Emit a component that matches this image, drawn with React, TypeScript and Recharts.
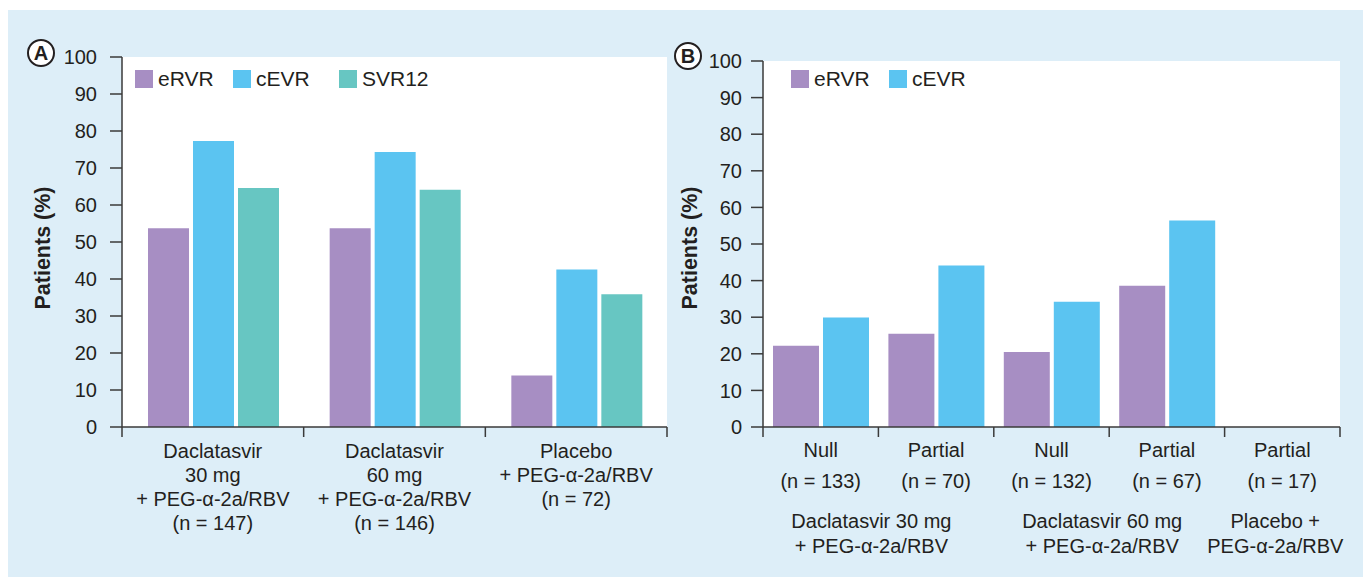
import { BarChart, Bar, XAxis, YAxis, CartesianGrid, Legend, Label } from "recharts";

// Panel A: response by treatment arm
const groupsA = [
  ["Daclatasvir", "30 mg", "+ PEG-\u03b1-2a/RBV", "(n = 147)"],
  ["Daclatasvir", "60 mg", "+ PEG-\u03b1-2a/RBV", "(n = 146)"],
  ["Placebo", "+ PEG-\u03b1-2a/RBV", "(n = 72)"],
];
const eRvrA = [53.7, 53.7, 13.9];
const cEvrA = [77.3, 74.3, 42.6];
const svr12A = [64.6, 64.1, 35.9];

// Panel B: response by prior null / partial response
const responseB = ["Null", "Partial", "Null", "Partial", "Partial"];
const countsB = ["(n = 133)", "(n = 70)", "(n = 132)", "(n = 67)", "(n = 17)"];
const eRvrB = [22.2, 25.5, 20.5, 38.6, null];
const cEvrB = [29.9, 44.1, 34.2, 56.4, null];
const groupLabelsB = [
  ["Daclatasvir 30 mg", "+ PEG-\u03b1-2a/RBV"],
  ["Daclatasvir 60 mg", "+ PEG-\u03b1-2a/RBV"],
  ["Placebo +", "PEG-\u03b1-2a/RBV"],
];
const groupSpansB = [2, 2, 1];

const yTicks = [0, 10, 20, 30, 40, 50, 60, 70, 80, 90, 100];

const PURPLE = "#a78ec3";
const BLUE = "#5bc4f1";
const TEAL = "#67c6c2";
const BG = "#ddeef8";
const INK = "#231f20";
const AXIS = "#3a3a3a";
const FONT = "'Liberation Sans', Arial, Helvetica, sans-serif";

const dataA = groupsA.map((g, i) => ({
  name: g.join(" "),
  eRVR: eRvrA[i],
  cEVR: cEvrA[i],
  SVR12: svr12A[i],
}));

const dataB = responseB.map((r, i) => ({
  name: `${r} ${countsB[i]}`,
  eRVR: eRvrB[i],
  cEVR: cEvrB[i],
}));

const W_A = 670;
const W_B = 695;
const H = 567;
const PLOT_W_A = 545;
const PLOT_W_B = 577;

const TickA = ({ x, y, index }: any) => {
  const band = PLOT_W_A / groupsA.length;
  const lines = groupsA[index] || [];
  return (
    <g>
      <line x1={x - band / 2} x2={x - band / 2} y1={y} y2={y + 10} stroke={AXIS} strokeWidth={1.5} />
      {index === groupsA.length - 1 && (
        <line x1={x + band / 2} x2={x + band / 2} y1={y} y2={y + 10} stroke={AXIS} strokeWidth={1.5} />
      )}
      <text x={x} y={y + 31} textAnchor="middle" fill={INK} fontSize={20} fontFamily={FONT}>
        {lines.map((l, i) => (
          <tspan key={i} x={x} dy={i === 0 ? 0 : 24}>
            {l}
          </tspan>
        ))}
      </text>
    </g>
  );
};

const TickB = ({ x, y, index }: any) => {
  const band = PLOT_W_B / responseB.length;
  // does this category start a group?
  let start = 0;
  let groupIdx = -1;
  groupSpansB.forEach((s, gi) => {
    if (start === index) groupIdx = gi;
    start += s;
  });
  const gx = groupIdx >= 0 ? x + ((groupSpansB[groupIdx] - 1) * band) / 2 - 7 : 0;
  return (
    <g>
      <line x1={x - band / 2} x2={x - band / 2} y1={y} y2={y + 10} stroke={AXIS} strokeWidth={1.5} />
      {index === responseB.length - 1 && (
        <line x1={x + band / 2} x2={x + band / 2} y1={y} y2={y + 10} stroke={AXIS} strokeWidth={1.5} />
      )}
      <text x={x} y={y + 30} textAnchor="middle" fill={INK} fontSize={20} fontFamily={FONT}>
        <tspan x={x} dy={0}>{responseB[index]}</tspan>
        <tspan x={x} dy={31}>{countsB[index]}</tspan>
      </text>
      {groupIdx >= 0 && (
        <text x={gx} y={y + 101} textAnchor="middle" fill={INK} fontSize={20} fontFamily={FONT}>
          {groupLabelsB[groupIdx].map((l, i) => (
            <tspan key={i} x={gx} dy={i === 0 ? 0 : 25}>
              {l}
            </tspan>
          ))}
        </text>
      )}
    </g>
  );
};

const LegendBox = ({ items }: { items: { label: string; color: string; w: number }[] }) => (
  <div style={{ display: "flex", alignItems: "center", fontFamily: FONT, fontSize: 21, color: INK }}>
    {items.map((it) => (
      <div key={it.label} style={{ display: "flex", alignItems: "center", width: it.w }}>
        <span style={{ width: 18, height: 18, background: it.color, marginRight: 5, display: "inline-block" }} />
        <span style={{ lineHeight: "18px" }}>{it.label}</span>
      </div>
    ))}
  </div>
);

const yLabel = (cx: number, dy: number) => (props: any) => {
  const vb = props.viewBox || { y: 0, height: 0 };
  const cy = vb.y + vb.height / 2 + dy;
  return (
    <text
      x={cx}
      y={cy}
      transform={`rotate(-90 ${cx} ${cy})`}
      textAnchor="middle"
      dominantBaseline="central"
      fill={INK}
      fontSize={21.5}
      fontWeight="bold"
      fontFamily={FONT}
    >
      Patients (%)
    </text>
  );
};

const Circled = ({ letter, left, top }: { letter: string; left: number; top: number }) => (
  <div
    style={{
      position: "absolute",
      left,
      top,
      width: 24,
      height: 24,
      border: `2px solid ${INK}`,
      borderRadius: "50%",
      background: "#fff",
      display: "flex",
      alignItems: "center",
      justifyContent: "center",
      fontFamily: FONT,
      fontWeight: "bold",
      fontSize: 20,
      color: INK,
      lineHeight: 1,
    }}
  >
    {letter}
  </div>
);

const yTick = { fill: INK, fontSize: 20, fontFamily: FONT };

export default function App() {
  return (
    <div
      style={{
        position: "absolute",
        left: 8,
        top: 10,
        width: 1355,
        height: H,
        background: BG,
        overflow: "hidden",
      }}
    >
      <div style={{ position: "absolute", left: 0, top: 0 }}>
        <BarChart
          width={W_A}
          height={H}
          data={dataA}
          margin={{ top: 47, right: 11, bottom: 30, left: 0 }}
          barCategoryGap={26}
          barGap={4}
        >
          <CartesianGrid fill="#fff" stroke="none" horizontal={false} vertical={false} />
          <XAxis
            dataKey="name"
            height={120}
            interval={0}
            axisLine={{ stroke: AXIS, strokeWidth: 1.5 }}
            tickLine={false}
            tickSize={0}
            tickMargin={0}
            tick={<TickA />}
          />
          <YAxis
            width={114}
            domain={[0, 100]}
            ticks={yTicks}
            interval={0}
            axisLine={{ stroke: AXIS, strokeWidth: 1.5 }}
            tickLine={{ stroke: AXIS, strokeWidth: 1.5 }}
            tickSize={12}
            tickMargin={13}
            tick={yTick}
          >
            <Label content={yLabel(35, 6)} />
          </YAxis>
          <Legend
            layout="horizontal"
            align="center"
            verticalAlign="middle"
            wrapperStyle={{ top: 60, left: 127, width: "auto" }}
            content={() => (
              <LegendBox
                items={[
                  { label: "eRVR", color: PURPLE, w: 98 },
                  { label: "cEVR", color: BLUE, w: 106 },
                  { label: "SVR12", color: TEAL, w: 100 },
                ]}
              />
            )}
          />
          <Bar dataKey="eRVR" fill={PURPLE} isAnimationActive={false} />
          <Bar dataKey="cEVR" fill={BLUE} isAnimationActive={false} />
          <Bar dataKey="SVR12" fill={TEAL} isAnimationActive={false} />
        </BarChart>
      </div>

      <div style={{ position: "absolute", left: 660, top: 0 }}>
        <BarChart
          width={W_B}
          height={H}
          data={dataB}
          margin={{ top: 51, right: 23, bottom: 30, left: 0 }}
          barCategoryGap={10}
          barGap={4}
        >
          <CartesianGrid fill="#fff" stroke="none" horizontal={false} vertical={false} />
          <XAxis
            dataKey="name"
            height={120}
            interval={0}
            axisLine={{ stroke: AXIS, strokeWidth: 1.5 }}
            tickLine={false}
            tickSize={0}
            tickMargin={0}
            tick={<TickB />}
          />
          <YAxis
            width={95}
            domain={[0, 100]}
            ticks={yTicks}
            interval={0}
            axisLine={{ stroke: AXIS, strokeWidth: 1.5 }}
            tickLine={{ stroke: AXIS, strokeWidth: 1.5 }}
            tickSize={12}
            tickMargin={9}
            tick={yTick}
          >
            <Label content={yLabel(22, 4)} />
          </YAxis>
          <Legend
            layout="horizontal"
            align="center"
            verticalAlign="middle"
            wrapperStyle={{ top: 60, left: 123, width: "auto" }}
            content={() => (
              <LegendBox
                items={[
                  { label: "eRVR", color: PURPLE, w: 98 },
                  { label: "cEVR", color: BLUE, w: 106 },
                ]}
              />
            )}
          />
          <Bar dataKey="eRVR" fill={PURPLE} isAnimationActive={false} />
          <Bar dataKey="cEVR" fill={BLUE} isAnimationActive={false} />
        </BarChart>
      </div>

      <Circled letter="A" left={19} top={29} />
      <Circled letter="B" left={666} top={32} />
    </div>
  );
}
